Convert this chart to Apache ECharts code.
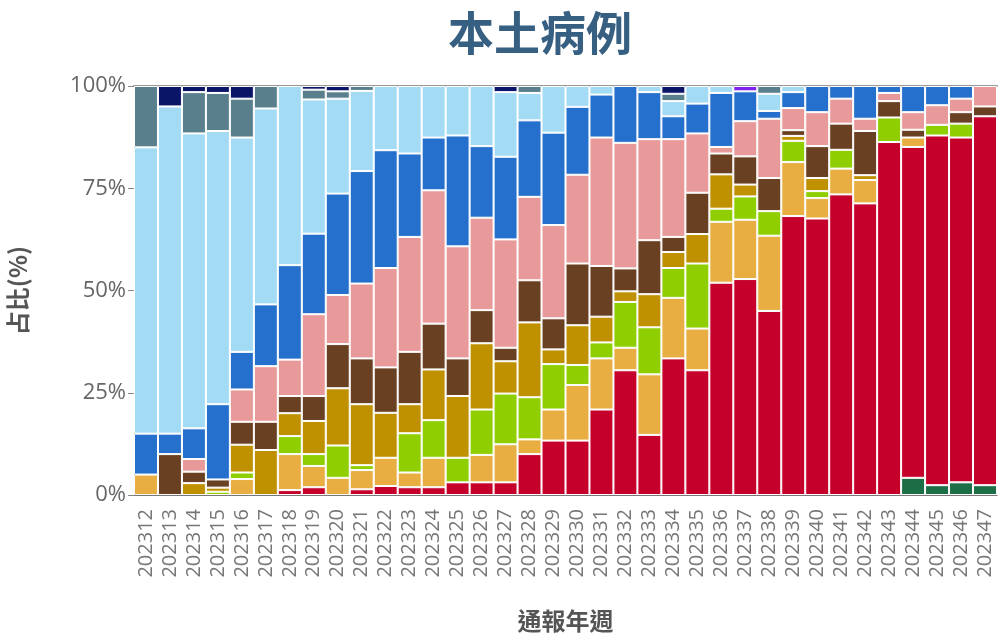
<!DOCTYPE html>
<html>
<head>
<meta charset="utf-8">
<script src="https://cdn.jsdelivr.net/npm/echarts@6/dist/echarts.min.js"></script>
<style>
  html, body { margin: 0; padding: 0; background: #fff; }
  #main { width: 998px; height: 637px; }
</style>
</head>
<body>
<div id="main"></div>
<script>
// weeks 202312 .. 202347
var weeks = [];
for (var w = 12; w <= 47; w++) weeks.push('2023' + w);

// share (%) per lineage, bottom of stack first
var sGreen  = [0,0,0,0,0,0,0,0,0,0,0,0,0,0,0,0,0,0,0,0,0,0,0,0,0,0,0,0,0,0,0,0,4.2,2.4,3.1,2.4];
var sRed    = [0,0,0,0,0,0,1.2,1.9,0,1.4,2.2,1.9,1.9,3.1,3.1,3.1,10.0,13.3,13.3,20.9,30.5,14.7,33.4,30.5,51.9,52.8,45.0,68.2,67.6,73.5,71.3,86.3,80.9,85.5,84.3,90.2];
var sOrange = [5,0,0,0,3.9,0,8.8,5.2,4.2,4.7,6.9,3.6,7.2,0,6.7,9.3,3.6,7.6,13.6,12.5,5.5,14.8,14.8,10.2,14.9,14.5,18.4,13.2,5.0,6.3,5.7,0,2.3,0,0,0];
var sLime   = [0,0,0,0.8,1.6,0,4.4,2.9,7.9,1.2,0,9.6,9.2,6.0,11.1,12.4,10.3,11.1,4.9,3.9,11.2,11.5,7.3,15.9,3.2,5.7,6.0,5.2,1.7,4.6,0,6.0,0,2.6,3.4,0];
var sGold   = [0,0,2.9,1.0,6.8,11.0,5.6,8.1,14.0,14.9,11.0,7.1,12.4,15.1,16.2,7.9,18.3,3.6,9.7,6.3,2.6,8.1,3.9,7.2,8.4,2.9,0,1.2,3.2,0,1.2,0,0,0,0,0];
var sBrown  = [0,10,2.8,2.0,5.6,6.9,4.2,6.1,10.8,11.2,11.1,12.8,11.2,9.2,8.1,3.3,10.3,7.6,15.1,12.4,5.6,13.2,3.7,10.1,5.1,6.9,8.1,1.4,7.8,6.4,10.8,4.0,1.9,0,2.8,2.4];
var sPink   = [0,0,3.1,0,7.9,13.6,8.9,20.0,12.0,18.3,24.3,28.1,32.6,27.4,22.6,26.5,20.4,22.8,21.7,31.4,30.7,24.7,23.9,14.5,1.6,8.6,14.5,5.4,8.3,6.1,3.0,2.0,4.3,4.8,3.3,5.0];
var sBlue   = [10,5,7.5,18.4,9.2,15.1,23.1,19.7,24.8,27.5,28.8,20.4,12.9,27.1,17.5,20.2,18.7,22.6,16.6,10.5,13.9,11.5,5.6,7.3,13.2,7.3,1.9,3.9,6.4,3.1,8.0,1.7,6.4,4.7,3.1,0];
var sSky    = [70,80,72.1,66.8,52.4,47.9,43.8,32.8,23.2,19.6,15.7,16.5,12.6,12.1,14.7,15.8,6.7,11.4,5.1,2.1,0,1.5,3.7,4.3,1.7,0,4.2,1.5,0,0,0,0,0,0,0,0];
var sSlate  = [15,0,10.1,9.3,9.5,5.5,0,2.4,1.8,1.2,0,0,0,0,0,0,1.7,0,0,0,0,0,1.8,0,0,0,1.9,0,0,0,0,0,0,0,0,0];
var sNavy   = [0,5,1.5,1.7,3.1,0,0,0.9,1.3,0,0,0,0,0,0,1.5,0,0,0,0,0,0,1.9,0,0,0,0,0,0,0,0,0,0,0,0,0];
var sPurple = [0,0,0,0,0,0,0,0,0,0,0,0,0,0,0,0,0,0,0,0,0,0,0,0,0,1.3,0,0,0,0,0,0,0,0,0,0];

var layers = [
  ['g1', sGreen,  '#1b6e46'],
  ['g2', sRed,    '#c5002b'],
  ['g3', sOrange, '#e8ae42'],
  ['g4', sLime,   '#8fce00'],
  ['g5', sGold,   '#bf9000'],
  ['g6', sBrown,  '#6a4023'],
  ['g7', sPink,   '#e89a9a'],
  ['g8', sBlue,   '#2470cc'],
  ['g9', sSky,    '#a3daf4'],
  ['g10', sSlate, '#5a7f8c'],
  ['g11', sNavy,  '#0b1568'],
  ['g12', sPurple,'#7f1ff0']
];

var chart = echarts.init(document.getElementById('main'));

var series = layers.map(function (l) {
  return {
    name: l[0],
    type: 'bar',
    stack: 'all',
    barCategoryGap: '0%',
    data: l[1].map(function (v) { return v === 0 ? null : v; }),
    itemStyle: { color: l[2], borderColor: '#fff', borderWidth: 1 }
  };
});

var font = '"Open Sans", "Noto Sans CJK TC", sans-serif';
var cjk = '"Noto Sans CJK TC", sans-serif';

chart.setOption({
  animation: false,
  textStyle: { fontFamily: font },
  title: {
    text: '本土病例',
    left: 443,
    top: 5,
    textStyle: { fontSize: 46, fontWeight: 'bold', color: '#375f82', fontFamily: cjk }
  },
  grid: { left: 134, right: 1, top: 86, bottom: 142, outerBoundsMode: 'none' },
  xAxis: [{
    type: 'category',
    data: weeks,
    name: '通報年週',
    nameLocation: 'middle',
    nameGap: 114,
    nameTextStyle: { fontSize: 24, fontWeight: 'bold', color: '#555', fontFamily: cjk },
    axisLine: { lineStyle: { color: '#777' } },
    axisTick: { alignWithLabel: true, length: 6, lineStyle: { color: '#888' } },
    axisLabel: { rotate: 90, interval: 0, fontSize: 20, color: '#777', margin: 14 }
  }, {
    type: 'category',
    position: 'top',
    data: weeks,
    axisLine: { lineStyle: { color: '#999', width: 2 } },
    axisTick: { show: false },
    axisLabel: { show: false }
  }],
  yAxis: {
    type: 'value',
    min: 0,
    max: 100,
    interval: 25,
    name: '占比(%)',
    nameLocation: 'middle',
    nameGap: 104,
    nameTextStyle: { fontSize: 24, fontWeight: 'bold', color: '#555', fontFamily: cjk },
    axisLine: { show: true, lineStyle: { color: '#777' } },
    axisTick: { show: true, length: 6, lineStyle: { color: '#888' } },
    splitLine: { show: false },
    axisLabel: { formatter: '{value}%', fontSize: 22, color: '#666', margin: 8 }
  },
  series: series
});

window.onresize = chart.resize;
</script>
</body>
</html>
